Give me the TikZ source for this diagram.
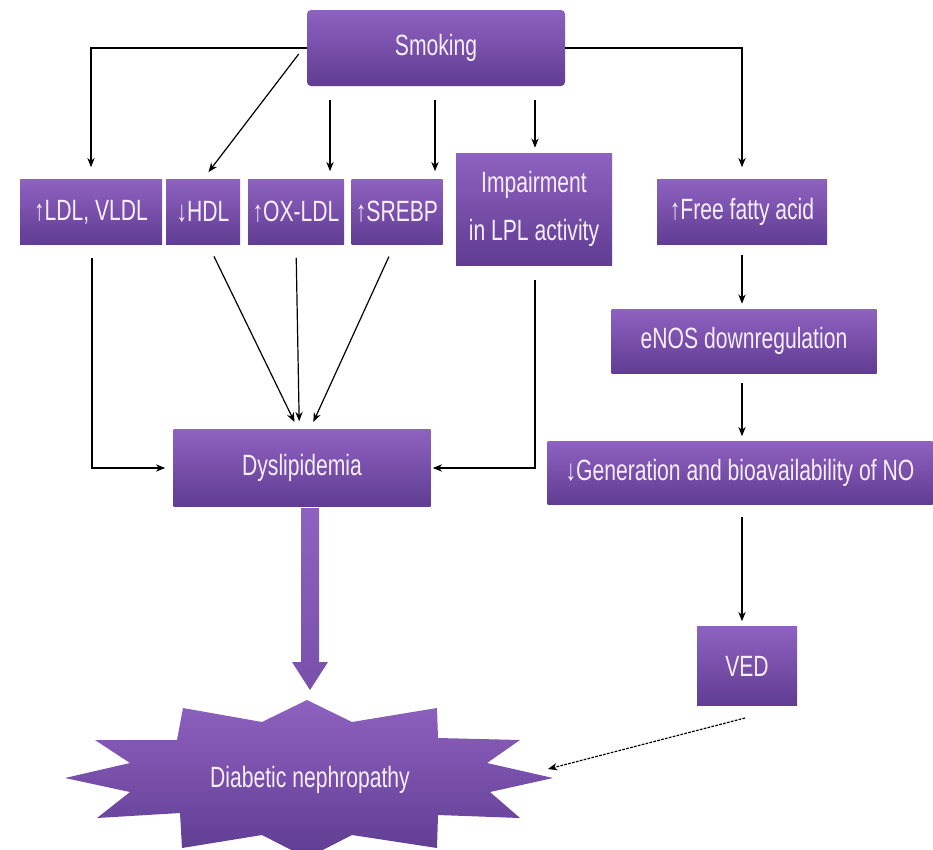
\documentclass[tikz,border=0pt]{standalone}
\usepackage{fontspec}
\setmainfont[FakeStretch=0.72]{Liberation Sans}
\usetikzlibrary{arrows.meta,calc}
\definecolor{ptop}{RGB}{142,98,192}
\definecolor{pbot}{RGB}{96,60,146}
\definecolor{ptext}{RGB}{246,238,252}
\definecolor{pfill}{RGB}{120,80,170}
\tikzset{
  pbox/.style={rectangle, top color=ptop, bottom color=pbot, text=ptext,
    font=\fontsize{22}{36}\selectfont, align=center, inner sep=2pt},
  arr/.style={draw=black, line width=0.9pt, -{Stealth[length=7pt,width=5.5pt]}},
  dasharr/.style={arr, dashed, dash pattern=on 2pt off 1pt}
}
\begin{document}
\begin{tikzpicture}[x=0.75pt,y=-0.75pt]
\useasboundingbox (0,0) rectangle (933,850);
\fill[white] (0,0) rectangle (933,850);

% boxes
\node[pbox, minimum width=258*0.75pt, minimum height=76*0.75pt, rounded corners=3pt] (smk) at (436,48) {Smoking};
\node[pbox, minimum width=142*0.75pt, minimum height=65*0.75pt] (ldl) at (91,212) {↑LDL, VLDL};
\node[pbox, minimum width=74*0.75pt, minimum height=65*0.75pt] (hdl) at (203,212) {↓HDL};
\node[pbox, minimum width=96*0.75pt, minimum height=65*0.75pt] (ox) at (296,212) {↑OX-LDL};
\node[pbox, minimum width=91*0.75pt, minimum height=65*0.75pt] (sre) at (397,212) {↑SREBP};
\node[pbox, minimum width=156*0.75pt, minimum height=112*0.75pt] (lpl) at (534,209) {Impairment\\in LPL activity};
\node[pbox, minimum width=170*0.75pt, minimum height=65*0.75pt] (ffa) at (742,212) {↑Free fatty acid};
\node[pbox, minimum width=265*0.75pt, minimum height=64*0.75pt] (enos) at (744,341) {eNOS downregulation};
\node[pbox, minimum width=385*0.75pt, minimum height=63*0.75pt] (gen) at (740,473) {↓Generation and bioavailability of NO};
\node[pbox, minimum width=100*0.75pt, minimum height=79*0.75pt] (ved) at (747,666) {VED};
\node[pbox, minimum width=257*0.75pt, minimum height=77*0.75pt] (dys) at (302,468) {Dyslipidemia};

% star
\coordinate (sc) at (310,780);
\shade[top color=ptop, bottom color=pbot]
  (65,778) -- (130,763) -- (95,740) -- (177,740) -- (183,708) -- (262,722) -- (307,700)
  -- (352,722) -- (437,708) -- (438,738) -- (520,740) -- (487,763) -- (553,778)
  -- (490,792) -- (520,818) -- (438,815) -- (437,848) -- (352,835) -- (307,858)
  -- (262,835) -- (182,848) -- (180,813) -- (97,818) -- (130,792) -- cycle;
\node[text=ptext, font=\fontsize{22}{26}\selectfont] (dn) at (sc) {Diabetic nephropathy};

% thick arrow
\shade[top color=ptop, bottom color=pfill] (301,508) -- (319,508) -- (319,662) -- (328,662) -- (310,690) -- (292,662) -- (301,662) -- cycle;

% smoking branches
\draw[arr, shorten >=12pt*0.75] (smk.west) -| (ldl.north);
\draw[arr, shorten >=9pt*0.75] ([yshift=-6pt*0.75]smk.west) ++(-8,0) -- (hdl.north);
\coordinate (s1) at (330,100);
\coordinate (s2) at (435,100);
\coordinate (s3) at (535,100);
\draw[arr, shorten >=8pt*0.75] (s1) -- (s1 |- ox.north);
\draw[arr, shorten >=8pt*0.75] (s2) -- (s2 |- sre.north);
\draw[arr, shorten >=5pt*0.75] (s3) -- (s3 |- lpl.north);
\draw[arr, shorten >=12pt*0.75] (smk.east) -| (ffa.north);

% to dyslipidemia
\coordinate (c1) at (92,258);
\draw[arr, shorten >=8pt*0.75] (c1) |- (dys.west);
\draw[arr, shorten <=13pt*0.75, shorten >=8pt*0.75] ([xshift=4]hdl.south) -- ([xshift=-3]dys.north);
\draw[arr, shorten <=13pt*0.75, shorten >=8pt*0.75] (ox.south) -- ([xshift=-2]dys.north);
\draw[arr, shorten <=13pt*0.75, shorten >=8pt*0.75] ([xshift=-2]sre.south) -- ([xshift=6]dys.north);
\coordinate (c2) at (535,280);
\draw[arr, shorten >=2pt*0.75] (c2) |- (dys.east);

% right chain
\draw[arr, shorten <=10pt*0.75, shorten >=5pt*0.75] (ffa.south) -- (enos.north -| ffa.south);
\draw[arr, shorten <=10pt*0.75, shorten >=5pt*0.75] (enos.south -| ffa.south) -- (gen.north -| ffa.south);
\draw[arr, shorten <=12pt*0.75, shorten >=5pt*0.75] (gen.south -| ffa.south) -- (ved.north -| ffa.south);
\coordinate (ve) at (745,718);
\coordinate (de) at (548,769);
\draw[dasharr] (ve) -- (de);
\end{tikzpicture}
\end{document}
